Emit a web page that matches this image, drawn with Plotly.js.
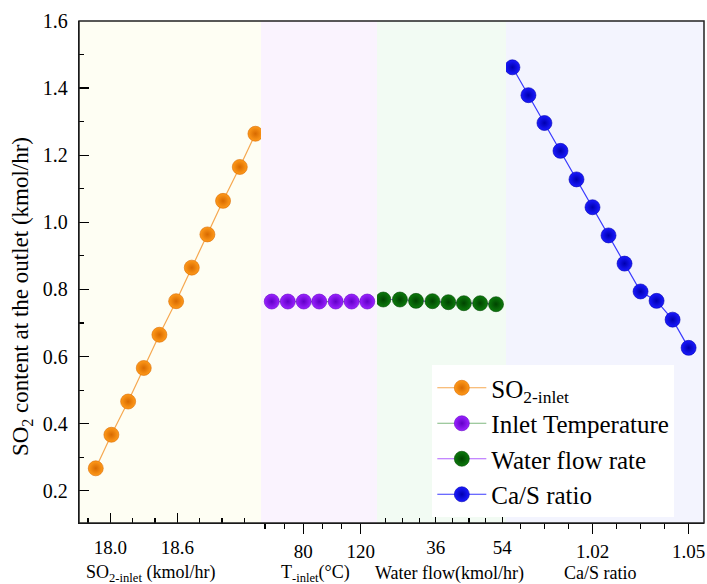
<!DOCTYPE html>
<html>
<head>
<meta charset="utf-8">
<script src="https://cdn.plot.ly/plotly-3.0.1.min.js"></script>
<style>html,body{margin:0;padding:0;background:#fff;}#chart{width:707px;height:584px;}</style>
</head>
<body>
<div id="chart"></div>
<script>
// ---- data ----
const so2Inlet = [17.87, 18.01, 18.16, 18.30, 18.44, 18.59, 18.73, 18.87, 19.01, 19.16, 19.30];
const so2InletOut = [0.267, 0.367, 0.466, 0.566, 0.665, 0.765, 0.865, 0.964, 1.064, 1.165, 1.264];

const tInlet = [58.0, 69.2, 80.3, 91.1, 102.6, 113.7, 124.6];
const tInletOut = [0.764, 0.764, 0.764, 0.764, 0.764, 0.764, 0.764];

const waterFlow = [21.8, 26.3, 30.65, 35.1, 39.4, 43.6, 48.0, 52.3];
const waterFlowOut = [0.770, 0.770, 0.766, 0.765, 0.762, 0.759, 0.759, 0.756];

const caS = [0.995, 1.000, 1.005, 1.010, 1.015, 1.020, 1.025, 1.030, 1.035, 1.040, 1.045, 1.050];
const caSOut = [1.462, 1.379, 1.296, 1.213, 1.128, 1.045, 0.961, 0.877, 0.794, 0.766, 0.710, 0.626];

const so2Ticks = [18.0, 18.6];
const tTicks = [80, 120];
const waterTicks = [36, 54];
const caSTicks = [1.02, 1.05];

const seriesNames = ["SO<sub>2-inlet</sub>", "Inlet Temperature", "Water flow rate", "Ca/S ratio"];
const axisTitles = ["SO<sub>2-inlet</sub> (kmol/hr)", "T<sub>-inlet</sub>(°C)", "Water flow(kmol/hr)", "Ca/S ratio"];
const yTitle = "SO<sub>2</sub> content at the outlet (kmol/hr)";

// ---- styling ----
const FONT = "Liberation Serif";
function mk(color, edge) {
  return {size: 15, color: color, gradient: {type: "radial", color: edge}, line: {width: 0.6, color: edge}};
}
const traces = [
  {x: so2Inlet, y: so2InletOut, xaxis: "x", yaxis: "y", name: seriesNames[0], mode: "lines+markers",
   line: {color: "#f6a850", width: 1.2}, marker: mk("#ff9a1a", "#d86a00")},
  {x: tInlet, y: tInletOut, xaxis: "x2", yaxis: "y", name: seriesNames[1], mode: "lines+markers",
   line: {color: "#7fb87f", width: 1.2}, marker: mk("#9a22ff", "#6200c8")},
  {x: waterFlow, y: waterFlowOut, xaxis: "x3", yaxis: "y", name: seriesNames[2], mode: "lines+markers",
   line: {color: "#b060ff", width: 1.2}, marker: mk("#0c7a0c", "#004400")},
  {x: caS, y: caSOut, xaxis: "x4", yaxis: "y", name: seriesNames[3], mode: "lines+markers",
   line: {color: "#3a3aff", width: 1.2}, marker: mk("#1a1aff", "#0000b0")}
];

const d = [0, 0.2912, 0.4768, 0.6832, 1];
function xax(i, range, tickvals, mtick0, mdtick, dir, fmt) {
  return {
    domain: [d[i], d[i+1]], range: range, anchor: "y",
    tickmode: "array", tickvals: tickvals, tickformat: fmt,
    ticks: dir, ticklen: 10, tickwidth: 1.3, tickcolor: "#000",
    ticklabelstandoff: dir === "inside" ? 7 : 1,
    minor: {tickmode: "linear", tick0: mtick0, dtick: mdtick, ticks: dir, ticklen: 5, tickwidth: 1.2, tickcolor: "#000", showgrid: false},
    showline: true, linecolor: "#000", linewidth: 1.3,
    showgrid: false, zeroline: false,
    tickfont: {family: FONT, size: 19, color: "#000"},
    fixedrange: true
  };
}

const bgColors = ["rgb(254,254,243)", "rgb(250,243,254)", "rgb(242,251,243)", "rgb(243,244,254)"];
const axNames = ["x", "x2", "x3", "x4"];
const shapes = bgColors.map((c, i) => ({
  type: "rect", xref: axNames[i] + " domain", yref: "paper", x0: 0, x1: 1, y0: 0, y1: 1,
  fillcolor: c, line: {width: 0}, layer: "below"
}));
shapes.push({type: "rect", xref: "paper", yref: "paper", x0: 0, x1: 1, y0: 0, y1: 1,
  line: {color: "#222", width: 1.5}, layer: "above"});

const titleX = [0.115, 0.378, 0.592, 0.834];
const annotations = axisTitles.map((t, i) => ({
  text: t, xref: "paper", yref: "paper", x: titleX[i], y: -0.1, xanchor: "center", yanchor: "middle",
  showarrow: false, font: {family: FONT, size: 18, color: "#000"}
}));
annotations.push({
  text: yTitle, xref: "paper", yref: "paper", x: -0.0912, y: 0.45, xanchor: "center", yanchor: "middle",
  textangle: -90, showarrow: false, font: {family: FONT, size: 23, color: "#000"}
});

const layout = {
  width: 707, height: 584,
  margin: {l: 79, r: 3, t: 21, b: 61, pad: 0},
  paper_bgcolor: "#fff", plot_bgcolor: "rgba(0,0,0,0)",
  font: {family: FONT, color: "#000"},
  showlegend: true,
  legend: {x: 0.5653, y: 0.3147, xanchor: "left", yanchor: "top", bgcolor: "#fff", borderwidth: 0,
    font: {family: FONT, size: 25, color: "#000"}, tracegroupgap: 0, itemwidth: 49},
  xaxis: xax(0, [17.72, 19.35], so2Ticks, 18.0, 0.2, "inside", ".1f"),
  xaxis2: xax(1, [50.5, 131.4], tTicks, 80, 40/3, "outside", "d"),
  xaxis3: xax(2, [20.1, 55.0], waterTicks, 0, 4.5, "inside", "d"),
  xaxis4: xax(3, [0.993, 1.0548], caSTicks, 1.02, 0.0075, "outside", ".2f"),
  yaxis: {
    range: [0.104, 1.6], tick0: 0, dtick: 0.2, tickformat: ".1f",
    ticks: "inside", ticklen: 10, tickwidth: 1.3, tickcolor: "#000", ticklabelstandoff: 6,
    minor: {dtick: 0.1, ticks: "inside", ticklen: 5, tickwidth: 1.2, tickcolor: "#000", showgrid: false},
    showline: true, linecolor: "#000", linewidth: 1.3, showgrid: false, zeroline: false,
    tickfont: {family: FONT, size: 20, color: "#000"},
    anchor: "x", fixedrange: true
  },
  shapes: shapes,
  annotations: annotations
};

Plotly.newPlot("chart", traces, layout, {displayModeBar: false, staticPlot: true});
</script>
</body>
</html>
